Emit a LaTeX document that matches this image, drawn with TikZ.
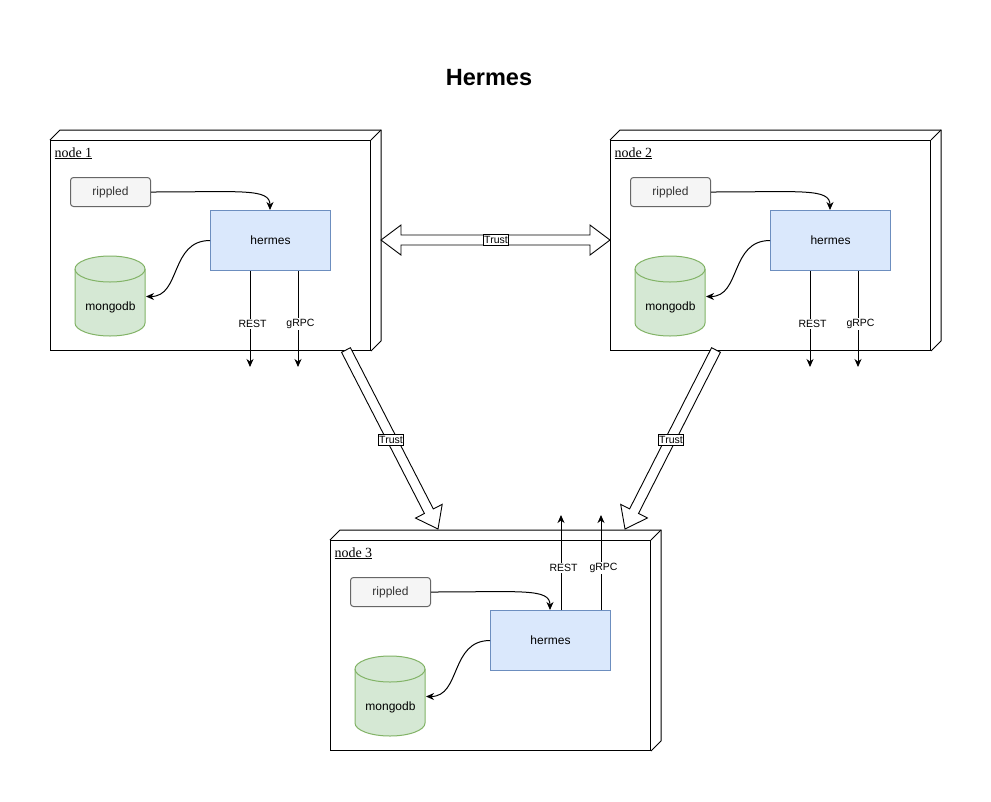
\documentclass[tikz,border=0pt]{standalone}
\usepackage{fontspec}
\setmainfont{Liberation Sans}
\newfontfamily\serifnode{Liberation Serif}
\usetikzlibrary{arrows.meta,calc}
\definecolor{graybg}{HTML}{F5F5F5}
\definecolor{grayline}{HTML}{666666}
\definecolor{textdark}{HTML}{333333}
\definecolor{bluebg}{HTML}{DAE8FC}
\definecolor{blueline}{HTML}{6C8EBF}
\definecolor{greenbg}{HTML}{D5E8D4}
\definecolor{greenline}{HTML}{82B366}

\tikzset{
  frame/.style={draw=black, fill=white, minimum width=320pt, minimum height=210pt, anchor=north west, inner sep=0pt},
  nlabel/.style={anchor=base west, inner sep=0pt, font=\serifnode\fontsize{14}{16}\selectfont},
  ripbox/.style={draw=grayline, fill=graybg, rounded corners=3pt, minimum width=80pt, minimum height=29pt, anchor=north west, text=textdark, inner sep=0pt, font=\fontsize{12}{14}\selectfont},
  hermbox/.style={draw=blueline, fill=bluebg, minimum width=120pt, minimum height=60pt, anchor=north west, inner sep=0pt, font=\fontsize{12}{14}\selectfont},
  dbnode/.style={minimum width=70pt, minimum height=80pt, anchor=north west, inner sep=0pt},
  dbtext/.style={inner sep=0pt, font=\fontsize{12}{14}\selectfont},
  arrowed/.style={-{Stealth[length=8pt,width=7pt,inset=2.5pt]}},
  elabel/.style={fill=white, inner sep=1pt, font=\fontsize{10.5}{12}\selectfont},
  trustlabel/.style={draw=black, fill=white, inner xsep=1pt, inner ysep=2pt, line width=0.9pt, font=\fontsize{10.5}{12}\selectfont},
  blockarrow/.style={draw=black, fill=white, line width=0.9pt, line join=miter}
}

\newcommand{\hnode}[4]{%
  \node[frame] (f#1) at (#2,#3) {};
  \draw (f#1.north west) -- ++(10,-10) -| ($(f#1.south east)+(10,-10)$) -- (f#1.south east);
  \draw (f#1.north east) -- ++(10,-10);
  \node[nlabel] (l#1) at ($(f#1.north west)+(4,17)$) {\underline{#4}};
  \node[ripbox] (r#1) at ($(f#1.north west)+(20,37)$) {rippled};
  \node[hermbox] (h#1) at ($(f#1.north west)+(160,70)$) {hermes};
  \node[dbnode] (d#1) at ($(f#1.north west)+(25,116)$) {};
  \draw[draw=greenline, fill=greenbg] ($(d#1.north west)+(0,13)$) -- ++(0,54)
     arc[start angle=180, end angle=360, x radius=35pt, y radius=13pt] -- ++(0,-54)
     arc[start angle=0, end angle=180, x radius=35pt, y radius=13pt] -- cycle;
  \draw[draw=greenline] ($(d#1.north west)+(0,13)$)
     arc[start angle=180, end angle=360, x radius=35pt, y radius=13pt];
  \node[dbtext] (dt#1) at ($(d#1.center)+(0,11)$) {mongodb};
  \draw[arrowed] (r#1.east) .. controls +(90,0) and +(0,-22) .. ($(h#1.north west)+(60,0)$);
  \draw[arrowed] (h#1.west) .. controls +(-40,0) and +(35,0) .. (d#1.east);
}

\begin{document}
\begin{tikzpicture}[x=1pt, y=-1pt, line width=1pt]
\useasboundingbox[fill=white] (0,0) rectangle (991,801);

\node[font=\bfseries\fontsize{23.5}{28}\selectfont] (title) at (489,78) {Hermes};

\hnode{1}{50}{140}{node 1}
\hnode{2}{610}{140}{node 2}
\hnode{3}{330}{540}{node 3}

% REST / gRPC outputs
\coordinate (e1a) at (250,367);
\coordinate (e1b) at (298,367);
\draw[arrowed] (e1a |- h1.south) -- (e1a);
\draw[arrowed] (e1b |- h1.south) -- (e1b);
\node[elabel] (t1a) at (252.5,324) {REST};
\node[elabel] (t1b) at (300.5,324) {gRPC};

\coordinate (e2a) at (810,367);
\coordinate (e2b) at (858,367);
\draw[arrowed] (e2a |- h2.south) -- (e2a);
\draw[arrowed] (e2b |- h2.south) -- (e2b);
\node[elabel] (t2a) at (812.5,324) {REST};
\node[elabel] (t2b) at (860.5,324) {gRPC};

\coordinate (e3a) at (561,515);
\coordinate (e3b) at (601,515);
\draw[arrowed] (e3a |- h3.north) -- (e3a);
\draw[arrowed] (e3b |- h3.north) -- (e3b);
\node[elabel] (t3a) at (563.5,568) {REST};
\node[elabel] (t3b) at (603.5,568) {gRPC};

% Trust: node 1 <-> node 2
\coordinate (ta) at (381,240);
\coordinate (tb) at (610,240);
\draw[blockarrow] (ta) -- ++(20,-15) -- ++(0,10) -- ($(tb)+(-20,-5)$) -- ++(0,-10) -- (tb)
   -- ++(-20,15) -- ++(0,-10) -- ($(ta)+(20,5)$) -- ++(0,10) -- cycle;
\node[trustlabel] (tl12) at (496,240) {Trust};

% Trust: node 1 -> node 3
\coordinate (A1) at (346,350);
\coordinate (B1) at (438,529);
\coordinate (H1) at ($(B1)!20pt!(A1)$);
\draw[blockarrow] ($(A1)!5pt!90:(B1)$) -- ($(H1)!5pt!90:(B1)$) -- ($(H1)!15pt!90:(B1)$) -- (B1)
   -- ($(H1)!15pt!-90:(B1)$) -- ($(H1)!5pt!-90:(B1)$) -- ($(A1)!5pt!-90:(B1)$) -- cycle;
\node[trustlabel] (tl13) at (391,440) {Trust};

% Trust: node 2 -> node 3
\coordinate (A2) at (716,350);
\coordinate (B2) at (625,529);
\coordinate (H2) at ($(B2)!20pt!(A2)$);
\draw[blockarrow] ($(A2)!5pt!90:(B2)$) -- ($(H2)!5pt!90:(B2)$) -- ($(H2)!15pt!90:(B2)$) -- (B2)
   -- ($(H2)!15pt!-90:(B2)$) -- ($(H2)!5pt!-90:(B2)$) -- ($(A2)!5pt!-90:(B2)$) -- cycle;
\node[trustlabel] (tl23) at (671,440) {Trust};
\end{tikzpicture}
\end{document}
